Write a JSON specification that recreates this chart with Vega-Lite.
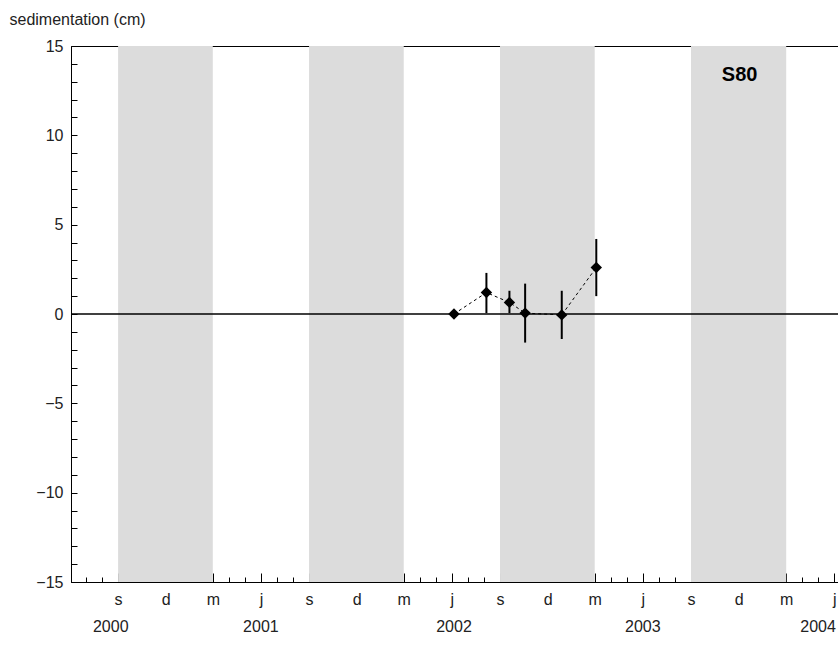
{
  "$schema": "https://vega.github.io/schema/vega-lite/v6.json",
  "width": 767,
  "height": 536,
  "autosize": "none",
  "padding": {"left": 71, "top": 46, "right": 0, "bottom": 86},
  "background": "white",
  "config": {
    "font": "Liberation Sans",
    "view": {"stroke": "black", "strokeWidth": 1},
    "axis": {"labelFont": "Liberation Sans", "labelFontSize": 16, "labelColor": "#222", "domainColor": "black", "tickColor": "black", "grid": false, "labelOverlap": false}
  },
  "datasets": {
    "points": [
      {"date": "2002-06-05", "value": 0.0, "lo": 0.0, "hi": 0.0},
      {"date": "2002-08-06", "value": 1.2, "lo": 0.05, "hi": 2.3},
      {"date": "2002-09-19", "value": 0.65, "lo": 0.05, "hi": 1.3},
      {"date": "2002-10-19", "value": 0.05, "lo": -1.6, "hi": 1.7},
      {"date": "2002-12-28", "value": -0.05, "lo": -1.4, "hi": 1.3},
      {"date": "2003-03-04", "value": 2.6, "lo": 1.0, "hi": 4.2}
    ],
    "bands": [
      {"start": "2000-09-01", "end": "2001-03-01"},
      {"start": "2001-09-01", "end": "2002-03-01"},
      {"start": "2002-09-01", "end": "2003-03-01"},
      {"start": "2003-09-01", "end": "2004-03-01"}
    ],
    "years": [
      {"date": "2000-08-18", "year": "2000"},
      {"date": "2001-06-01", "year": "2001"},
      {"date": "2002-06-05", "year": "2002"},
      {"date": "2003-06-01", "year": "2003"},
      {"date": "2004-05-01", "year": "2004"}
    ]
  },
  "encoding": {
    "y": {
      "type": "quantitative",
      "scale": {"domain": [-15, 15], "nice": false, "zero": false},
      "axis": {
        "title": "sedimentation (cm)",
        "titleAngle": 0, "titleX": -62, "titleY": -27,
        "titleAlign": "left", "titleBaseline": "middle",
        "titleFont": "Liberation Sans", "titleFontSize": 16, "titleFontWeight": "normal", "titleColor": "#222",
        "values": [-15,-14,-13,-12,-11,-10,-9,-8,-7,-6,-5,-4,-3,-2,-1,0,1,2,3,4,5,6,7,8,9,10,11,12,13,14,15],
        "labelExpr": "datum.value%5==0?replace(datum.label,'-','\u2212'):''",
        "tickSize": -6,
        "labelPadding": 14
      }
    }
  },
  "layer": [
    {
      "data": {"name": "bands"},
      "mark": {"type": "rect", "color": "#dcdcdc"},
      "encoding": {
        "x": {
          "field": "start", "type": "temporal",
          "scale": {"type": "utc", "domain": ["2000-06-03", "2004-06-08"]},
          "axis": {
            "title": null,
            "tickCount": {"interval": "month", "step": 1},
            "labelExpr": "utcmonth(datum.value)==8?'s':utcmonth(datum.value)==11?'d':utcmonth(datum.value)==2?'m':utcmonth(datum.value)==5?'j':''",
            "tickSize": {"condition": {"test": "utcmonth(datum.value)%3==2", "value": -9}, "value": -5},
            "labelPadding": 18,
            "labelFlush": false
          }
        },
        "x2": {"field": "end"},
        "y": null
      }
    },
    {
      "data": {"values": [{"v": 0}]},
      "mark": {"type": "rule", "color": "black", "strokeWidth": 1.3},
      "encoding": {"y": {"field": "v"}}
    },
    {
      "data": {"name": "points"},
      "mark": {"type": "line", "color": "black", "strokeWidth": 1, "strokeDash": [3, 3]},
      "encoding": {
        "x": {"field": "date", "type": "temporal"},
        "y": {"field": "value"}
      }
    },
    {
      "data": {"name": "points"},
      "mark": {"type": "rule", "color": "black", "strokeWidth": 2},
      "encoding": {
        "x": {"field": "date", "type": "temporal"},
        "y": {"field": "lo"},
        "y2": {"field": "hi"}
      }
    },
    {
      "data": {"name": "points"},
      "mark": {"type": "point", "shape": "diamond", "filled": true, "color": "black", "opacity": 1, "size": 130},
      "encoding": {
        "x": {"field": "date", "type": "temporal"},
        "y": {"field": "value"}
      }
    },
    {
      "data": {"values": [{"date": "2003-12-03", "v": 13.4, "label": "S80"}]},
      "mark": {"type": "text", "font": "Liberation Sans", "fontSize": 20, "fontWeight": "bold", "color": "black"},
      "encoding": {
        "x": {"field": "date", "type": "temporal"},
        "y": {"field": "v"},
        "text": {"field": "label"}
      }
    },
    {
      "data": {"name": "years"},
      "mark": {"type": "text", "font": "Liberation Sans", "fontSize": 16, "color": "#222", "dy": 45, "baseline": "middle"},
      "encoding": {
        "x": {"field": "date", "type": "temporal"},
        "y": {"datum": -15},
        "text": {"field": "year"}
      }
    }
  ]
}
